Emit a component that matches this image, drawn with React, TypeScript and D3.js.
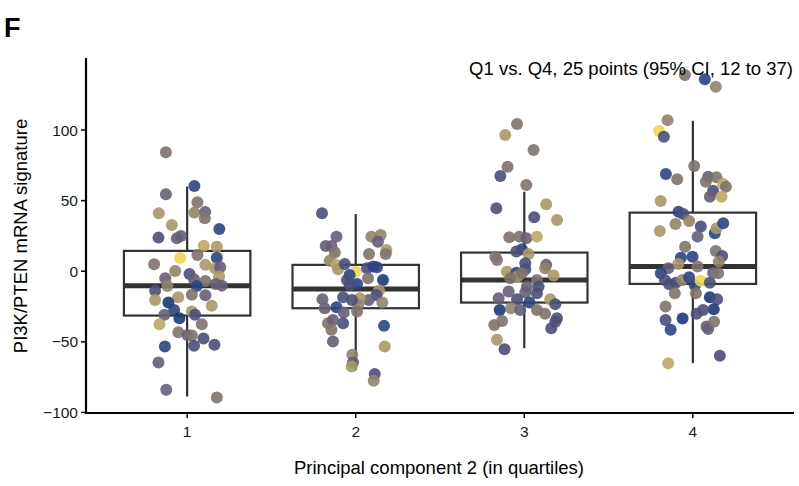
import React from "react";
import * as d3 from "d3";

// ---- data ----
const categories = ["1", "2", "3", "4"];
const yTicks = [-100, -50, 0, 50, 100];
const annotation = "Q1 vs. Q4, 25 points (95% CI, 12 to 37)";
const panelLabel = "F";
const yTitle = "PI3K/PTEN mRNA signature";
const xTitle = "Principal component 2 (in quartiles)";

// box statistics per quartile group: [lowerWhisker, q1, median, q3, upperWhisker]
const boxStats = [
  [-88.7, -31.4, -10.2, 14.4, 59.9],
  [-70.0, -26.2, -12.5, 4.5, 40.5],
  [-54.5, -22.2, -6.2, 13.2, 56.3],
  [-65.1, -9.0, 3.3, 41.5, 106.5],
];

// points: [value, jitter (fraction of category step), colour value 0..1]
const group1 = [
  [84.2, -0.126, 0.5], [60.3, 0.043, 0.15], [54.5, -0.126, 0.38], [48.8, 0.061, 0.5],
  [41.0, -0.168, 0.7], [41.5, 0.043, 0.6], [42.0, 0.107, 0.38], [37.5, 0.105, 0.5],
  [32.8, -0.091, 0.7], [29.9, 0.191, 0.15], [23.8, -0.17, 0.28], [23.3, -0.061, 0.38],
  [25.0, -0.037, 0.38], [18.1, 0.099, 0.8], [17.4, 0.176, 0.7], [9.4, -0.041, 0.95],
  [11.5, 0.061, 0.5], [9.6, 0.176, 0.15], [5.0, -0.196, 0.5], [0.2, -0.071, 0.6],
  [4.5, 0.108, 0.7], [2.1, 0.166, 0.7], [2.8, 0.196, 0.38], [-3.8, 0.19, 0.7],
  [-5.0, -0.13, 0.38], [-1.9, 0.014, 0.28], [-5.7, 0.041, 0.38], [-6.9, 0.108, 0.5],
  [-9.0, 0.17, 0.38], [-10.2, 0.206, 0.38], [-10.4, -0.117, 0.6], [-10.4, 0.057, 0.15],
  [-13.9, -0.19, 0.28], [-20.3, -0.19, 0.7], [-18.4, -0.053, 0.7], [-16.6, 0.028, 0.5],
  [-17.0, 0.108, 0.38], [-22.2, -0.111, 0.05], [-27.4, -0.077, 0.15], [-30.9, -0.135, 0.38],
  [-33.3, -0.046, 0.05], [-28.6, 0.028, 0.7], [-30.9, 0.047, 0.28], [-24.5, 0.146, 0.7],
  [-37.5, -0.164, 0.8], [-37.5, 0.087, 0.5], [-43.2, -0.052, 0.5], [-45.1, 0.002, 0.38],
  [-45.6, 0.028, 0.5], [-47.7, 0.097, 0.28], [-53.3, -0.132, 0.15], [-52.8, 0.041, 0.28],
  [-52.1, 0.162, 0.28], [-64.6, -0.17, 0.38], [-84.0, -0.124, 0.38], [-89.4, 0.176, 0.5],
];
const group2 = [
  [41.0, -0.2, 0.28], [24.5, -0.114, 0.38], [17.9, -0.178, 0.38], [17.9, -0.144, 0.38],
  [13.2, -0.124, 0.5], [24.5, 0.093, 0.6], [25.7, 0.148, 0.6], [20.9, 0.132, 0.38],
  [15.1, 0.182, 0.7], [12.2, 0.178, 0.5], [12.2, 0.079, 0.5], [7.5, -0.154, 0.6],
  [4.5, -0.114, 0.8], [1.4, -0.105, 0.7], [5.2, -0.065, 0.28], [-0.3, 0.0, 0.95],
  [-2.6, -0.036, 0.15], [-6.2, -0.052, 0.28], [-9.0, 0.008, 0.15], [-9.7, -0.036, 0.28],
  [2.1, 0.067, 0.28], [3.3, 0.103, 0.15], [2.8, 0.126, 0.15], [-5.0, 0.073, 0.5],
  [-6.2, 0.162, 0.05], [-13.9, 0.138, 0.7], [-16.8, 0.123, 0.28], [-22.2, 0.158, 0.6],
  [-20.3, 0.077, 0.38], [-19.1, 0.024, 0.7], [-23.8, 0.014, 0.6], [-28.6, 0.008, 0.5],
  [-20.3, -0.022, 0.28], [-18.4, -0.075, 0.28], [-19.8, -0.197, 0.38], [-26.2, -0.184, 0.38],
  [-25.5, -0.114, 0.15], [-29.3, -0.071, 0.38], [-36.8, -0.075, 0.28], [-36.8, -0.164, 0.5],
  [-34.5, -0.135, 0.38], [-41.5, -0.144, 0.5], [-49.8, -0.135, 0.38], [-38.7, 0.168, 0.15],
  [-53.3, 0.172, 0.7], [-59.2, -0.02, 0.6], [-64.7, -0.016, 0.38], [-67.5, -0.024, 0.7],
  [-72.7, 0.113, 0.28], [-77.6, 0.107, 0.6],
];
const group3 = [
  [104.2, -0.043, 0.5], [96.4, -0.113, 0.7], [85.8, 0.055, 0.5], [74.0, -0.099, 0.5],
  [67.4, -0.142, 0.28], [61.1, 0.012, 0.5], [47.4, 0.13, 0.7], [44.6, -0.166, 0.28],
  [38.2, 0.059, 0.28], [36.3, 0.194, 0.7], [24.1, -0.089, 0.5], [24.5, -0.03, 0.5],
  [23.3, 0.012, 0.38], [24.5, 0.075, 0.8], [15.6, -0.014, 0.15], [13.9, -0.047, 0.28],
  [12.2, 0.025, 0.7], [10.3, -0.172, 0.5], [8.0, -0.162, 0.5], [5.7, 0.006, 0.28],
  [1.4, 0.006, 0.28], [4.5, 0.13, 0.38], [2.1, 0.124, 0.6], [-3.1, 0.174, 0.7],
  [-0.3, -0.103, 0.7], [-1.0, -0.047, 0.15], [-3.8, -0.04, 0.7], [-5.0, -0.083, 0.5],
  [-1.4, -0.014, 0.5], [-6.2, 0.075, 0.5], [-10.9, 0.016, 0.38], [-10.9, 0.085, 0.28],
  [-14.4, -0.093, 0.38], [-15.1, 0.006, 0.38], [-15.6, 0.075, 0.28], [-19.1, -0.152, 0.38],
  [-19.8, -0.043, 0.28], [-22.2, 0.031, 0.15], [-19.8, 0.154, 0.7], [-23.3, 0.184, 0.28],
  [-26.2, -0.079, 0.6], [-27.4, -0.024, 0.38], [-27.4, 0.075, 0.5], [-30.2, 0.124, 0.5],
  [-27.4, -0.146, 0.05], [-35.2, -0.132, 0.5], [-38.0, -0.178, 0.5], [-33.3, 0.194, 0.28],
  [-35.7, 0.184, 0.28], [-40.3, 0.16, 0.28], [-48.6, -0.162, 0.7], [-55.2, -0.117, 0.28],
];
const group4 = [
  [138.9, -0.047, 0.5], [136.0, 0.071, 0.15], [130.6, 0.136, 0.6], [107.0, -0.15, 0.6],
  [99.3, -0.2, 0.95], [95.2, -0.172, 0.28], [74.5, 0.008, 0.5], [68.8, -0.16, 0.15],
  [65.1, -0.093, 0.5], [66.9, 0.091, 0.38], [66.5, 0.14, 0.5], [63.4, 0.077, 0.5],
  [61.8, 0.18, 0.8], [59.9, 0.196, 0.5], [57.0, 0.12, 0.28], [52.8, 0.101, 0.38],
  [52.8, 0.17, 0.8], [49.7, -0.191, 0.7], [42.2, -0.085, 0.15], [40.5, -0.057, 0.28],
  [33.5, -0.103, 0.6], [35.6, -0.022, 0.6], [31.6, 0.047, 0.28], [28.5, -0.196, 0.7],
  [24.5, 0.028, 0.38], [26.9, 0.13, 0.15], [30.4, 0.14, 0.7], [34.0, 0.18, 0.15],
  [17.4, -0.046, 0.5], [14.4, 0.136, 0.5], [10.8, 0.174, 0.28], [6.8, 0.154, 0.6],
  [9.6, -0.071, 0.15], [10.3, -0.002, 0.15], [5.2, -0.087, 0.7], [3.3, 0.028, 0.5],
  [2.1, -0.146, 0.38], [-1.4, -0.19, 0.15], [-6.2, -0.166, 0.28], [-9.2, -0.14, 0.28],
  [-8.1, -0.101, 0.28], [-6.2, -0.063, 0.6], [-4.2, -0.022, 0.15], [-9.9, 0.012, 0.15],
  [-6.7, 0.046, 0.95], [-8.1, 0.101, 0.28], [-1.0, 0.12, 0.38], [-1.4, 0.15, 0.5],
  [-15.6, -0.107, 0.5], [-15.6, 0.018, 0.5], [-18.4, 0.101, 0.05], [-19.8, 0.144, 0.28],
  [-25.0, -0.162, 0.5], [-26.9, 0.124, 0.05], [-33.5, -0.061, 0.05], [-34.5, -0.162, 0.28],
  [-41.5, -0.132, 0.15], [-30.2, 0.022, 0.28], [-27.4, 0.061, 0.28], [-39.2, 0.081, 0.38],
  [-41.0, 0.091, 0.38], [-35.7, 0.126, 0.5], [-59.9, 0.16, 0.28], [-65.1, -0.146, 0.8],
];
const groups = [group1, group2, group3, group4];

// colour palette (cividis-like)
const colourStops = [0.05, 0.15, 0.28, 0.38, 0.5, 0.6, 0.7, 0.8, 0.95];
const colourValues = ["#1B3A78", "#2E4482", "#4A4F7A", "#665E77", "#7F736C", "#918469", "#A89968", "#BCA862", "#EDD655"];

const W = 799;
const H = 486;
const FONT = "'Liberation Sans', Arial, Helvetica, sans-serif";

export default function App() {
  const left = 86, right = 794, top = 58, bottom = 413;
  const x = d3.scalePoint<string>().domain(categories).range([left, right]).padding(0.6);
  const step = x.step();
  const y = d3.scaleLinear().domain([-100.4, 151]).range([bottom, top]);
  const colour = d3.scaleLinear<string>().domain(colourStops).range(colourValues).interpolate(d3.interpolateRgb).clamp(true);
  const boxW = step * 0.75;
  const ink = "#333333";

  return (
    <svg width={W} height={H} style={{ position: "absolute", left: 0, top: 0, background: "#fff" }} fontFamily={FONT}>
      <rect x={0} y={0} width={W} height={H} fill="#fff" />
      <text x={4} y={37} fontSize={27} fontWeight="bold" fill="#000">{panelLabel}</text>

      {/* boxes */}
      {boxStats.map((s, i) => {
        const cx = x(categories[i])!;
        const [lo, q1, med, q3, hi] = s;
        return (
          <g key={"b" + i}>
            <line x1={cx} x2={cx} y1={y(hi)} y2={y(q3)} stroke={ink} strokeWidth={2.2} />
            <line x1={cx} x2={cx} y1={y(q1)} y2={y(lo)} stroke={ink} strokeWidth={2.2} />
            <rect x={cx - boxW / 2} y={y(q3)} width={boxW} height={y(q1) - y(q3)} fill="#fff" stroke={ink} strokeWidth={2.2} />
            <line x1={cx - boxW / 2} x2={cx + boxW / 2} y1={y(med)} y2={y(med)} stroke={ink} strokeWidth={5} />
          </g>
        );
      })}

      {/* points */}
      {groups.map((g, i) =>
        g.map((p, j) => (
          <circle key={i + "-" + j} cx={x(categories[i])! + p[1] * step} cy={y(p[0])} r={6}
            fill={colour(p[2])} fillOpacity={0.9} />
        ))
      )}

      {/* axes */}
      <line x1={left} x2={left} y1={top} y2={bottom + 1} stroke="#000" strokeWidth={2.2} />
      <line x1={left - 1} x2={right} y1={bottom} y2={bottom} stroke="#000" strokeWidth={2.2} />
      {yTicks.map((t) => (
        <g key={"yt" + t}>
          <line x1={left - 5} x2={left} y1={y(t)} y2={y(t)} stroke="#000" strokeWidth={1.5} />
          <text x={left - 8} y={y(t)} dy="0.36em" textAnchor="end" fontSize={15.5} fill="#1a1a1a">{t < 0 ? "\u2212" + Math.abs(t) : t}</text>
        </g>
      ))}
      {categories.map((c) => (
        <g key={"xt" + c}>
          <line x1={x(c)!} x2={x(c)!} y1={bottom} y2={bottom + 5} stroke="#000" strokeWidth={1.5} />
          <text x={x(c)!} y={bottom + 24} textAnchor="middle" fontSize={15.5} fill="#1a1a1a">{c}</text>
        </g>
      ))}
      <text x={439} y={474} textAnchor="middle" fontSize={18.5} fill="#000">{xTitle}</text>
      <text transform={`translate(27, ${236}) rotate(-90)`} textAnchor="middle" fontSize={18.5} fill="#000">{yTitle}</text>
      <text x={793} y={75} textAnchor="end" fontSize={18.5} fill="#000">{annotation}</text>
    </svg>
  );
}
